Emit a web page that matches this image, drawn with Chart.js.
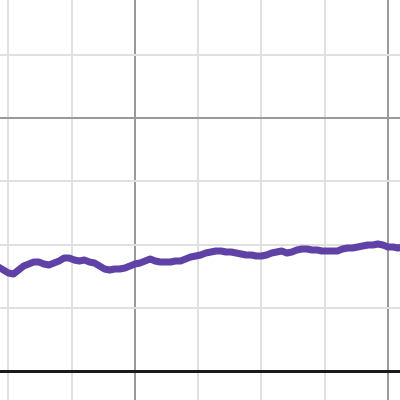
<!DOCTYPE html>
<html>
<head>
<meta charset="utf-8">
<script src="https://cdn.jsdelivr.net/npm/chart.js@4"></script>
<style>
  html, body { margin: 0; padding: 0; background: #fff; }
  canvas { display: block; }
</style>
</head>
<body>
<canvas id="graph" width="400" height="400"></canvas>
<script>
// values, in grid units (1 unit = one minor grid square)
var xs = [-2.16, -2.08, -2.00, -1.92, -1.84, -1.76, -1.68, -1.60, -1.52, -1.44,
          -1.36, -1.28, -1.20, -1.12, -1.04, -0.96, -0.88, -0.80, -0.72, -0.64,
          -0.56, -0.48, -0.40, -0.32, -0.24, -0.16, -0.08, 0.00, 0.08, 0.16,
          0.24, 0.32, 0.40, 0.48, 0.56, 0.64, 0.72, 0.80, 0.88, 0.96,
          1.04, 1.12, 1.20, 1.28, 1.36, 1.44, 1.52, 1.60, 1.68, 1.76,
          1.84, 1.92, 2.00, 2.08, 2.16, 2.24, 2.32, 2.40, 2.48, 2.56,
          2.64, 2.72, 2.80, 2.88, 2.96, 3.04, 3.12, 3.20, 3.28, 3.36,
          3.44, 3.52, 3.60, 3.68, 3.76, 3.84, 3.92, 4.00, 4.08, 4.16, 4.24];
var ys = [1.644, 1.597, 1.549, 1.534, 1.597, 1.660, 1.692, 1.723, 1.723, 1.692,
          1.676, 1.708, 1.739, 1.787, 1.787, 1.755, 1.739, 1.755, 1.723, 1.708,
          1.660, 1.613, 1.597, 1.613, 1.613, 1.628, 1.660, 1.692, 1.708, 1.739,
          1.771, 1.739, 1.723, 1.723, 1.723, 1.739, 1.739, 1.771, 1.802, 1.818,
          1.834, 1.866, 1.881, 1.897, 1.897, 1.881, 1.881, 1.866, 1.850, 1.834,
          1.834, 1.818, 1.818, 1.834, 1.866, 1.881, 1.897, 1.866, 1.881, 1.913,
          1.929, 1.929, 1.913, 1.913, 1.897, 1.897, 1.897, 1.897, 1.929, 1.945,
          1.945, 1.960, 1.976, 1.992, 1.992, 2.008, 1.992, 1.960, 1.960, 1.945, 1.960];

// visible window of the graph and the grid lines in it
var xMin = -2.134, xMax = 4.190;
var yMin = -0.458, yMax = 5.866;
var xGrid = [-2, -1, 0, 1, 2, 3, 4];
var yGrid = [0, 1, 2, 3, 4, 5];

var pts = [];
for (var i = 0; i < xs.length; i++) pts.push({x: xs[i], y: ys[i]});

function isMajor(v) { return v % 4 === 0; }

var ctx = document.getElementById("graph");
var graph = new Chart(ctx, {
  type: 'line',
  data: {
    datasets: [
      {
        data: pts,
        borderColor: "#6042a6",
        borderWidth: 7,
        borderJoinStyle: 'round',
        borderCapStyle: 'round',
        pointRadius: 0,
        tension: 0,
        fill: false
      }
    ]
  },
  options: {
    responsive: false,
    animation: false,
    maintainAspectRatio: false,
    devicePixelRatio: 1,
    layout: { padding: 0 },
    plugins: { legend: { display: false }, tooltip: { enabled: false } },
    scales: {
      x: {
        type: 'linear',
        min: xMin, max: xMax,
        afterBuildTicks: function(s) { s.ticks = xGrid.map(function(v) { return {value: v}; }); },
        ticks: { display: false },
        border: { display: false },
        grid: {
          drawTicks: false,
          color: function(c) { return isMajor(c.tick.value) ? '#9a9a9a' : '#e0e0e0'; },
          lineWidth: 2
        }
      },
      y: {
        type: 'linear',
        min: yMin, max: yMax,
        afterBuildTicks: function(s) { s.ticks = yGrid.map(function(v) { return {value: v}; }); },
        ticks: { display: false },
        border: { display: false },
        grid: {
          drawTicks: false,
          color: function(c) {
            if (c.tick.value === 0) return '#1a1a1a';
            return isMajor(c.tick.value) ? '#9a9a9a' : '#e0e0e0';
          },
          lineWidth: function(c) { return c.tick.value === 0 ? 3 : 2; }
        }
      }
    }
  }
});
</script>
</body>
</html>
